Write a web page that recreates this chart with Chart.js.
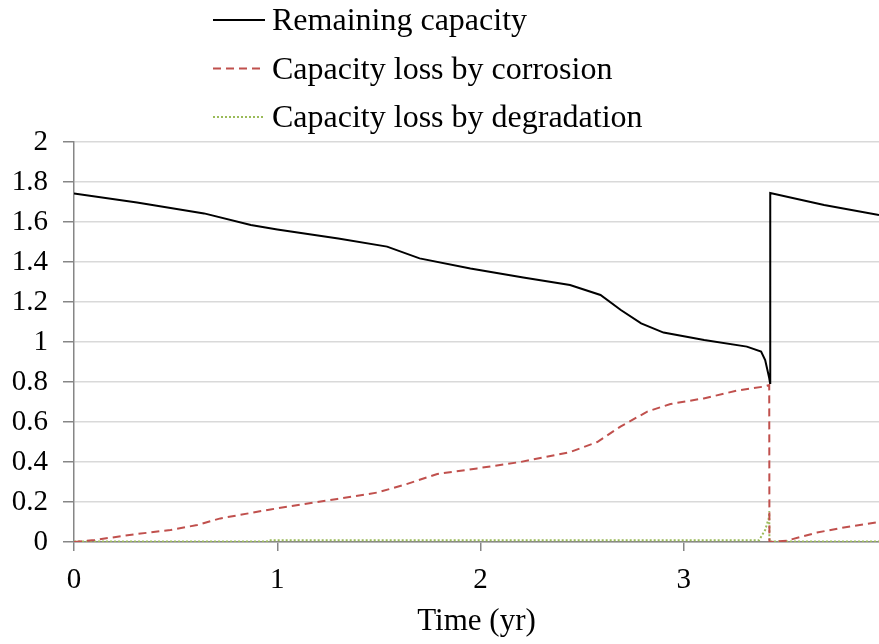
<!DOCTYPE html>
<html>
<head>
<meta charset="utf-8">
<script src="https://cdn.jsdelivr.net/npm/chart.js@4/dist/chart.umd.min.js"></script>
<style>
    body { margin: 0; background: #fff; }
    canvas { display: block; }
</style>
</head>
<body>
<canvas id="capacityChart" width="879" height="644"></canvas>
<script>
// Values (time in years, capacity in the plot's units)
const remainingTime = [0, 0.31, 0.64, 0.87, 1.0, 1.3, 1.54, 1.7, 1.95, 2.21, 2.44, 2.59, 2.69, 2.79, 2.9, 3.1, 3.31, 3.38, 3.40, 3.42, 3.424, 3.425, 3.69, 3.96];
const remainingValues = [1.743, 1.698, 1.643, 1.585, 1.563, 1.518, 1.477, 1.418, 1.368, 1.323, 1.285, 1.235, 1.16, 1.093, 1.047, 1.01, 0.977, 0.952, 0.91, 0.82, 0.795, 1.745, 1.685, 1.635];

const corrosionTime = [0, 0.1, 0.31, 0.475, 0.606, 0.72, 0.967, 1.295, 1.49, 1.622, 1.787, 1.983, 2.196, 2.442, 2.574, 2.688, 2.82, 2.934, 3.098, 3.262, 3.393, 3.42, 3.421, 3.508, 3.655, 3.787, 3.96];
const corrosionValues = [0, 0.01, 0.04, 0.06, 0.085, 0.118, 0.163, 0.215, 0.247, 0.285, 0.34, 0.368, 0.40, 0.45, 0.50, 0.577, 0.652, 0.69, 0.718, 0.757, 0.777, 0.785, 0, 0.007, 0.047, 0.073, 0.10];

const degradationTime = [0, 0.95, 0.96, 3.37, 3.40, 3.418, 3.42, 3.421, 3.96];
const degradationValues = [0.003, 0.003, 0.009, 0.009, 0.06, 0.12, 0.155, 0.002, 0.002];

const seriesLabels = ["Remaining capacity", "Capacity loss by corrosion", "Capacity loss by degradation"];
const xTicks = [0, 1, 2, 3];
const yTicks = [0, 0.2, 0.4, 0.6, 0.8, 1, 1.2, 1.4, 1.6, 1.8, 2];

const serif = "'Liberation Serif', 'Times New Roman', serif";

function toPoints(xs, ys) {
    return xs.map((x, i) => ({ x: x, y: ys[i] }));
}

// legend drawn by hand: three stacked rows above the plot
const stackedLegend = {
    id: "stackedLegend",
    afterDraw(chart) {
        const ctx = chart.ctx;
        const rows = [20, 68.5, 117];
        ctx.save();
        chart.data.datasets.forEach((ds, i) => {
            ctx.beginPath();
            ctx.strokeStyle = ds.borderColor;
            ctx.lineWidth = ds.borderWidth;
            ctx.setLineDash(ds.borderDash || []);
            ctx.moveTo(213, rows[i]);
            ctx.lineTo(265, rows[i]);
            ctx.stroke();
            ctx.setLineDash([]);
            ctx.fillStyle = "#000";
            ctx.font = "32px " + serif;
            ctx.textBaseline = "middle";
            ctx.textAlign = "left";
            ctx.fillText(ds.label, 272, rows[i] + 2);
        });
        ctx.restore();
    }
};

new Chart(document.getElementById("capacityChart"), {
    type: "line",
    data: {
        datasets: [{
            label: seriesLabels[0],
            data: toPoints(remainingTime, remainingValues),
            borderColor: "#000000",
            borderWidth: 2,
            pointRadius: 0
        }, {
            label: seriesLabels[1],
            data: toPoints(corrosionTime, corrosionValues),
            borderColor: "#c0504d",
            borderWidth: 2,
            borderDash: [8, 5],
            pointRadius: 0
        }, {
            label: seriesLabels[2],
            data: toPoints(degradationTime, degradationValues),
            borderColor: "#9bbb59",
            borderWidth: 2,
            borderDash: [2, 2],
            pointRadius: 0
        }]
    },
    options: {
        responsive: false,
        animation: false,
        layout: { padding: { top: 142, left: 0, right: 0, bottom: 0 } },
        plugins: {
            legend: { display: false },
            tooltip: { enabled: false }
        },
        scales: {
            x: {
                type: "linear",
                min: 0,
                max: 3.96,
                afterBuildTicks: scale => { scale.ticks = xTicks.map(v => ({ value: v })); },
                afterFit: scale => { scale.height = 102; },
                grid: { drawOnChartArea: false, tickLength: 9, tickColor: "#868686", lineWidth: 1.5 },
                border: { color: "#868686", width: 1.5 },
                ticks: { color: "#000", font: { family: serif, size: 29 }, padding: 12 },
                title: {
                    display: true,
                    text: "Time (yr)",
                    color: "#000",
                    font: { family: serif, size: 31 },
                    padding: { top: 0, bottom: 4 }
                }
            },
            y: {
                min: 0,
                max: 2,
                afterBuildTicks: scale => { scale.ticks = yTicks.map(v => ({ value: v })); },
                afterFit: scale => { scale.width = 74; },
                grid: { color: "#d9d9d9", lineWidth: 1.5, tickLength: 11, tickColor: "#868686" },
                border: { color: "#868686", width: 1.5 },
                ticks: {
                    color: "#000",
                    font: { family: serif, size: 29 },
                    padding: 15,
                    callback: value => String(Math.round(value * 10) / 10)
                }
            }
        }
    },
    plugins: [stackedLegend]
});
</script>
</body>
</html>
